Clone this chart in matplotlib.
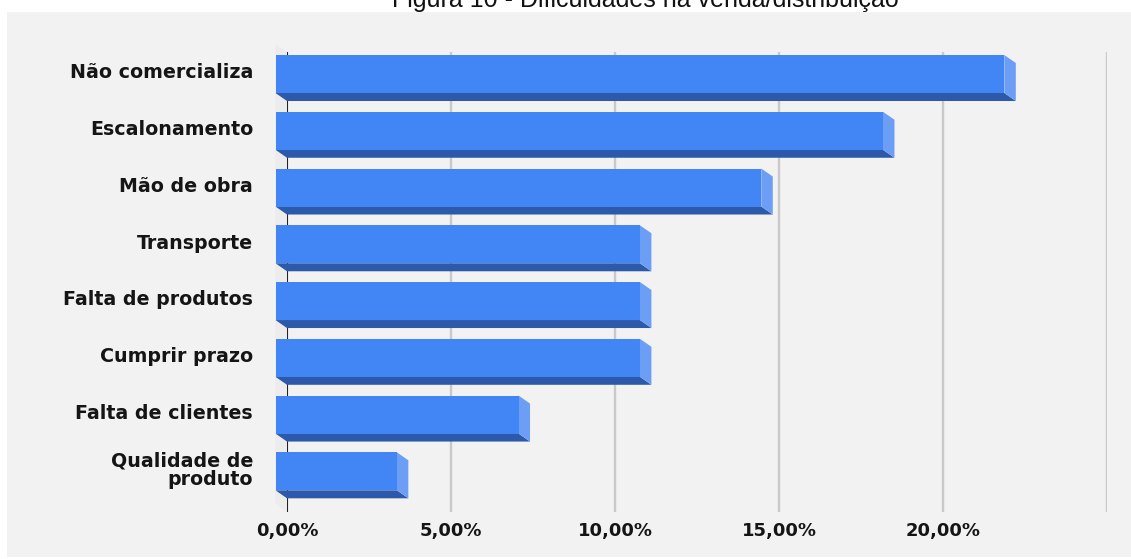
import matplotlib
matplotlib.use("Agg")
import matplotlib.pyplot as plt
from matplotlib.patches import Polygon, Rectangle

# Data: share of respondents citing each difficulty (%)
categories = ["Não comercializa", "Escalonamento", "Mão de obra", "Transporte",
              "Falta de produtos", "Cumprir prazo", "Falta de clientes",
              "Qualidade de\nproduto"]
values = [22.22, 18.52, 14.81, 11.11, 11.11, 11.11, 7.41, 3.70]
tick_values = [0, 5, 10, 15, 20, 25]
tick_labels = ["0,00%", "5,00%", "10,00%", "15,00%", "20,00%", ""]
title = "Figura 10 - Dificuldades na venda/distribuição"

W, H = 1131, 559
fig = plt.figure(figsize=(W / 100, H / 100), dpi=100)
fig.patch.set_facecolor("white")

# grey chart panel
fig.add_artist(Rectangle((7 / W, 2 / H), 1124 / W, 545 / H, transform=fig.transFigure,
                         facecolor="#f2f2f2", edgecolor="none", zorder=0))

ax_l, ax_r, ax_t, ax_b = 287, 1107, 52, 512
ax = fig.add_axes([ax_l / W, (H - ax_b) / H, (ax_r - ax_l) / W, (ax_b - ax_t) / H])
ax.set_facecolor("none")
for s in ax.spines.values():
    s.set_visible(False)

ymin, ymax = -0.5286, 7.576
ax.set_xlim(0, 25)
ax.set_ylim(ymax, ymin)

# pixel -> data conversion for the depth offset
px_x = (ax_r - ax_l) / 25.0
px_y = (ax_b - ax_t) / (ymax - ymin)
depth_dx = 11.5 / px_x      # front face shifted left
depth_dy = 8.0 / px_y       # and up
bar_h = 38.0 / px_y

c_front = "#4285f4"
c_bottom = "#2c59a9"
c_side = "#6d9ef6"

# left wall of the 3D box
ax.add_patch(Polygon([(0, ymin), (0, ymax), (-depth_dx, ymax - depth_dy), (-depth_dx, ymin - depth_dy)],
                     closed=True, facecolor="#ececec", edgecolor="none", zorder=0.5,
                     clip_on=False))

# gridlines
for t in tick_values:
    if t == 0:
        ax.axvline(t, color="#222222", lw=1.5, zorder=1)
    else:
        ax.axvline(t, color="#c9c9c9", lw=1.7, zorder=1)

for i, v in enumerate(values):
    top = i - bar_h / 2
    bot = i + bar_h / 2
    # bottom face
    ax.add_patch(Polygon([(-depth_dx, bot - depth_dy), (v - depth_dx, bot - depth_dy), (v, bot), (0, bot)],
                         closed=True, facecolor=c_bottom, edgecolor="none", zorder=2, clip_on=False))
    # right side face
    ax.add_patch(Polygon([(v - depth_dx, top - depth_dy), (v, top), (v, bot), (v - depth_dx, bot - depth_dy)],
                         closed=True, facecolor=c_side, edgecolor="none", zorder=2, clip_on=False))
    # front face
    ax.add_patch(Rectangle((-depth_dx, top - depth_dy), v, bar_h, facecolor=c_front,
                           edgecolor="none", zorder=3, clip_on=False))
    # category label
    ax.text(-34 / (ax_r - ax_l), i - depth_dy - 0.02, categories[i],
            transform=ax.get_yaxis_transform(), ha="right", va="center",
            fontsize=13.7, fontweight="bold", family="DejaVu Sans", color="#151515",
            linespacing=0.95)

ax.set_yticks([])
ax.set_xticks(tick_values)
ax.set_xticklabels(tick_labels, fontsize=13, fontweight="bold", family="DejaVu Sans", color="#151515")
ax.tick_params(axis="x", length=0, pad=7)

fig.text(645 / W, (H - 7) / H, title, ha="center", va="baseline",
         fontsize=18, family="Liberation Sans", color="#111111")

fig.savefig("out.png", dpi=100)
